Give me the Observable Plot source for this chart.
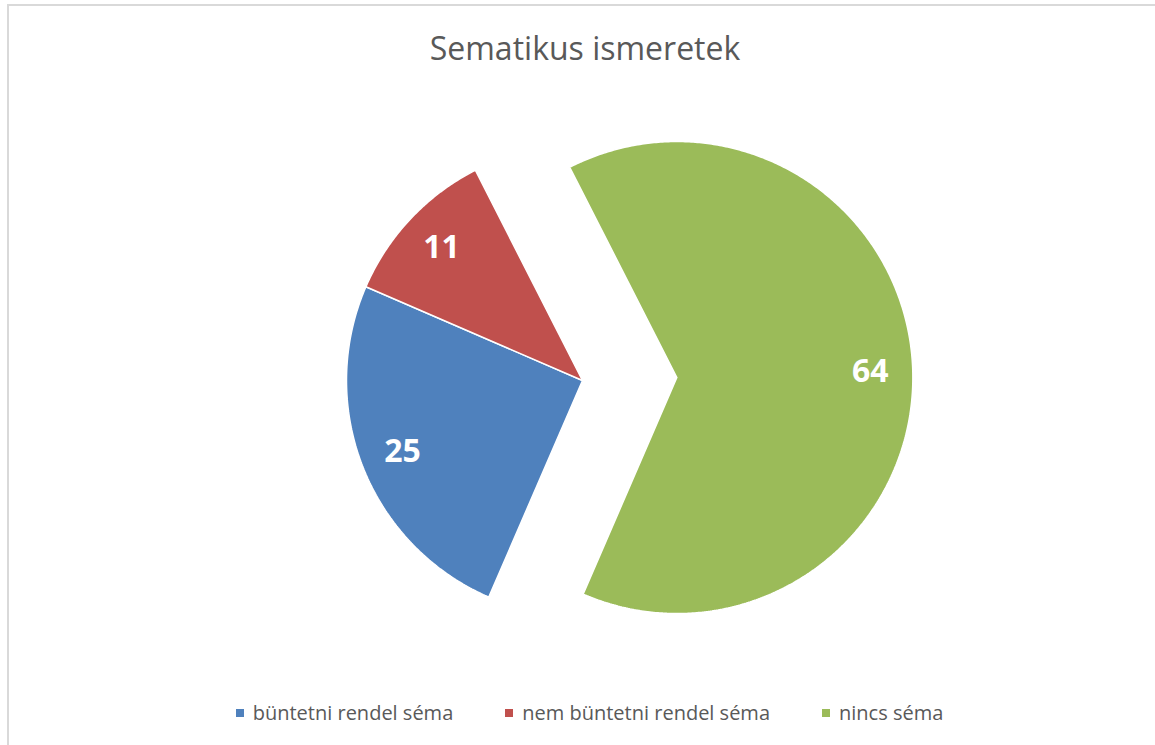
<!DOCTYPE html>
<html>
<head>
<meta charset="utf-8">
<script src="https://cdn.jsdelivr.net/npm/d3@7"></script>
<script src="https://cdn.jsdelivr.net/npm/@observablehq/plot@0.6"></script>
<style>
  body { margin: 0; background: #fff; font-family: "Open Sans", sans-serif; }
  #wrap { position: relative; width: 1155px; height: 745px; overflow: hidden; background: #fff; }
  #bt { position: absolute; left: 7px; top: 4px; right: 0; height: 2px; background: #d9d9d9; }
  #bl { position: absolute; left: 7px; top: 4px; bottom: 0; width: 2px; background: #d9d9d9; }
  #title { position: absolute; top: 26px; left: 0; width: 1170px; text-align: center; font-size: 32px; color: #595959; white-space: nowrap; }
  #chart { position: absolute; left: 0; top: 90px; }
  #legend { position: absolute; top: 699px; left: 0; width: 1179px; display: flex; justify-content: center; gap: 52px; font-size: 20px; color: #595959; white-space: nowrap; }
  .item { display: flex; align-items: center; gap: 9px; }
  .sw { width: 8px; height: 8px; display: inline-block; }
</style>
</head>
<body>
<div id="wrap">
  <div id="bt"></div>
  <div id="bl"></div>
  <div id="title">Sematikus ismeretek</div>
  <div id="chart"></div>
  <div id="legend"></div>
</div>
<script>
// ---- data ----
const categories = ["büntetni rendel séma", "nem büntetni rendel séma", "nincs séma"];
const values = [25, 11, 64];
// ---- chart settings ----
const colors = ["#4F81BD", "#C0504D", "#9BBB59"];
const explode = [0, 0, 0.4];
const firstSliceAngle = 203.4; // degrees, clockwise from 12 o'clock

const total = d3.sum(values);
const rows = [];
const labels = [];
let acc = firstSliceAngle;
values.forEach((v, i) => {
  const cat = categories[i];
  const a0 = acc, a1 = acc + (v / total) * 360;
  acc = a1;
  const mid = ((a0 + a1) / 2) * Math.PI / 180;
  const ox = explode[i] * Math.sin(mid), oy = explode[i] * Math.cos(mid);
  rows.push({cat, x: ox, y: oy});
  const n = Math.ceil((a1 - a0) / 0.5);
  for (let k = 0; k <= n; k++) {
    const a = (a0 + (a1 - a0) * k / n) * Math.PI / 180;
    rows.push({cat, x: ox + Math.sin(a), y: oy + Math.cos(a)});
  }
  rows.push({cat, x: ox, y: oy});
  labels.push({cat, value: v, x: ox + 0.82 * Math.sin(mid), y: oy + 0.82 * Math.cos(mid)});
});

const W = 1155, H = 590, RPX = 236, CX = 582, CY = 290;
const chart = Plot.plot({
  width: W,
  height: H,
  margin: 0,
  style: {fontFamily: "Open Sans", background: "transparent", overflow: "visible"},
  x: {domain: [-CX / RPX, (W - CX) / RPX], axis: null},
  y: {domain: [-(H - CY) / RPX, CY / RPX], axis: null},
  color: {domain: categories, range: colors},
  marks: [
    Plot.line(rows, {x: "x", y: "y", z: "cat", fill: "cat", stroke: "white", strokeWidth: 1.5, curve: "linear", strokeLinejoin: "miter"}),
    Plot.text(labels, {x: "x", y: "y", text: d => String(d.value), fill: "white", fontWeight: "bold", fontSize: 32, fontFamily: "Open Sans"})
  ]
});
document.getElementById("chart").appendChild(chart);

const legend = document.getElementById("legend");
categories.forEach((c, i) => {
  const it = document.createElement("div");
  it.className = "item";
  const sw = document.createElement("span");
  sw.className = "sw";
  sw.style.background = colors[i];
  const t = document.createElement("span");
  t.textContent = c;
  it.appendChild(sw);
  it.appendChild(t);
  legend.appendChild(it);
});
</script>
</body>
</html>
